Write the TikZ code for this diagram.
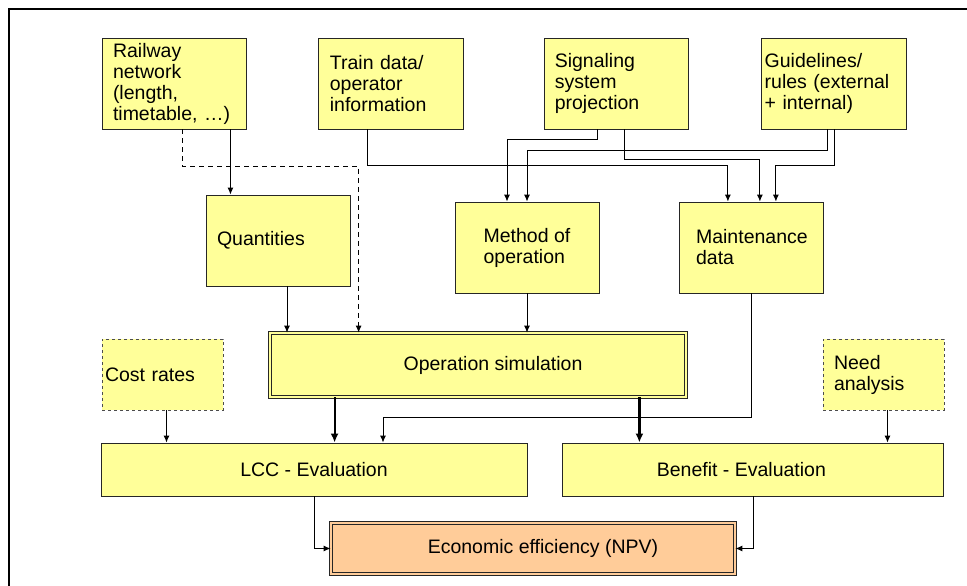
\documentclass[tikz,border=0pt]{standalone}
\usepackage{fontspec}
\setmainfont{Liberation Sans}
\usetikzlibrary{positioning,arrows.meta}
\definecolor{boxyellow}{HTML}{FFFF99}
\definecolor{npvorange}{HTML}{FFCC99}

\begin{document}
\begin{tikzpicture}[x=1pt,y=-1pt,
    font=\fontsize{19.5}{21}\selectfont,
    >={Latex[length=7pt,width=6pt]},
    box/.style={draw=black!85,fill=boxyellow,line width=0.9pt,align=left,inner xsep=11pt,inner ysep=0pt,minimum height=91pt},
    dashbox/.style={box,draw=black!70,dashed,minimum height=71pt},
    dblbox/.style={box,double=boxyellow,double distance=2pt,line width=0.8pt,align=center},
    link/.style={->,line width=0.9pt},
    mainlink/.style={-{Latex[length=9pt,width=8pt]},line width=2.2pt}]
    \useasboundingbox (0,0) rectangle (967,586);
    \draw[line width=1.4pt] (9,586) -- (9,9) -- (967,9);
    \draw
        node[box,text width=122pt] (rail) at (174,83.5) {Railway\\network\\(length,\\timetable, …)}
        node[box,text width=123pt,right=72pt of rail] (train) {Train data/\\operator\\information}
        node[box,text width=124pt,inner xsep=10pt,right=80pt of train] (signal) {Signaling\\system\\projection}
        node[box,text width=139pt,inner xsep=3pt,right=72pt of signal] (guide) {Guidelines/\\rules (external\\+ internal)}

        node[box,text width=122pt] (quant) at (278,240.5) {Quantities}
        node[box,minimum width=144pt] (method) at (527,247.5) {Method of\\operation}
        node[box,minimum width=144pt,right=80pt of method] (maint) {Maintenance\\data}

        node[dblbox,minimum width=416pt,minimum height=64pt] (opsim) at (478,365) {\hspace*{30pt}Operation simulation}
        node[dashbox,text width=115pt,inner xsep=3pt] (cost) at (162.5,374.5) {Cost rates}
        node[dashbox,text width=99pt] (need) at (883.5,374.5) {Need\\analysis}

        node[box,align=center,minimum width=426pt,minimum height=53pt] (lcc) at (314,469.5) {LCC - Evaluation}
        node[box,align=center,minimum width=381pt,minimum height=53pt,right=35pt of lcc] (benefit) {Benefit - Evaluation\hspace*{24pt}}
        node[dblbox,fill=npvorange,double=npvorange,minimum width=404pt,minimum height=51pt] (npv) at (533,548.5) {\hspace*{20pt}Economic efficiency (NPV)}
    ;
    \draw[link] ([xshift=-16pt]rail.south east) coordinate (railq) -- (railq |- quant.north);
    \draw[link,dash pattern=on 5pt off 4pt] ([xshift=8pt]rail.south) -- ++(0,37) -| ([xshift=89pt]opsim.north west);
    \draw[link] ([xshift=9pt]quant.south) coordinate (quanto) -- (quanto |- opsim.north);
    \draw[link] (method.south) -- (opsim.north -| method.south);

    \draw[link] ([xshift=-24pt]train.south) -- ++(0,36) -| ([xshift=-24pt]maint.north);
    \draw[link] ([xshift=-19pt]signal.south) -- ++(0,10) -| ([xshift=-20pt]method.north);
    \draw[link] ([xshift=8pt]signal.south) -- ++(0,30) -| ([xshift=8pt]maint.north);
    \draw[link] ([xshift=-7pt]guide.south) -- ++(0,21) -| (method.north);
    \draw[link] (guide.south) -- ++(0,36) -| ([xshift=24pt]maint.north);

    \draw[link] (maint.south) -- ++(0,124) -| ([xshift=69pt]lcc.north);
    \draw[mainlink] ([xshift=65pt]opsim.south west) coordinate (opl) -- (opl |- lcc.north);
    \draw[mainlink] ([xshift=-47pt]opsim.south east) coordinate (opb) -- (opb |- benefit.north);
    \draw[link] ([xshift=4pt]cost.south) coordinate (costl) -- (costl |- lcc.north);
    \draw[link] ([xshift=4pt]need.south) coordinate (needb) -- (needb |- benefit.north);
    \draw[link] (lcc.south) |- (npv.west);
    \draw[link] (benefit.south) |- (npv.east);
\end{tikzpicture}
\end{document}
